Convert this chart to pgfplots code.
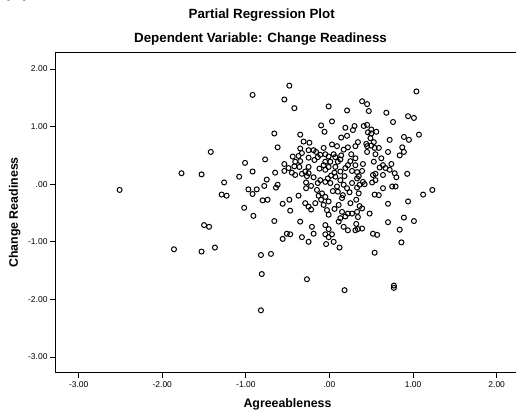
\documentclass[border=0pt]{standalone}
\usepackage{pgfplots}
\pgfplotsset{compat=1.18}
\usepackage{fontspec}
\setmainfont{Liberation Sans}

\pgfplotstableread{
x y
-0.48 1.71
-0.92 1.55
-0.54 1.47
-0.66 0.88
-0.62 0.64
-1.42 0.56
-1.01 0.37
-0.77 0.43
-1.77 0.19
-1.53 0.17
-0.92 0.22
-1.08 0.13
-0.54 0.35
-0.54 0.23
-0.65 0.20
-1.26 0.03
-0.75 0.08
-0.78 -0.03
-0.97 -0.09
-0.87 -0.09
-0.92 -0.17
-0.62 -0.01
-0.64 -0.06
-2.51 -0.10
-1.29 -0.18
-1.23 -0.20
-0.80 -0.28
-0.74 -0.27
-0.56 -0.34
-0.48 -0.27
-1.02 -0.41
-0.91 -0.55
-0.47 -0.46
-0.66 -0.64
-1.50 -0.71
-1.44 -0.74
-0.51 -0.86
-0.56 -0.95
-1.86 -1.13
-1.53 -1.17
-1.37 -1.10
-0.82 -1.23
-0.70 -1.21
-0.81 -1.56
-0.82 -2.19
-0.42 1.32
-0.01 1.35
0.21 1.28
0.39 1.44
0.45 1.39
0.47 1.27
0.03 1.09
-0.10 1.02
-0.06 0.91
0.19 0.98
0.30 1.01
0.28 0.94
0.45 1.03
0.50 0.95
0.56 0.91
-0.35 0.86
-0.31 0.74
-0.24 0.72
0.14 0.81
0.21 0.84
0.34 0.73
0.03 0.69
0.31 0.66
0.49 0.80
0.53 0.73
0.45 0.66
-0.35 0.62
-0.33 0.54
-0.19 0.59
-0.07 0.63
0.22 0.64
0.54 0.63
-0.44 0.48
-0.25 0.46
-0.16 0.56
-0.11 0.51
-0.01 0.48
0.05 0.52
0.14 0.50
0.26 0.52
0.45 0.56
0.55 0.52
-0.42 0.31
-0.25 0.30
-0.07 0.33
0.01 0.39
0.07 0.30
0.25 0.40
0.31 0.33
0.40 0.35
0.53 0.39
1.04 1.61
0.68 1.24
0.76 1.08
0.94 1.18
1.01 1.15
1.07 0.86
0.89 0.82
0.95 0.77
0.72 0.77
0.87 0.64
0.89 0.56
0.84 0.50
0.70 0.56
0.50 0.67
0.59 0.63
0.62 0.45
0.64 0.33
0.74 0.35
0.60 0.29
0.67 0.28
0.52 0.16
0.55 0.18
0.64 0.16
0.78 0.19
0.80 0.12
0.93 0.18
0.51 0.03
0.64 -0.07
0.75 -0.04
0.79 -0.04
0.54 -0.18
0.59 -0.19
1.12 -0.18
1.23 -0.10
0.94 -0.30
0.70 -0.34
0.48 -0.51
0.89 -0.58
0.70 -0.66
1.01 -0.64
0.84 -0.79
0.52 -0.86
0.57 -0.88
0.86 -1.01
0.46 0.90
0.50 0.88
0.44 0.70
0.72 0.25
0.33 0.21
0.35 0.14
0.55 0.07
0.42 0.00
0.33 -0.06
0.35 -0.16
0.32 -0.27
0.36 -0.38
0.33 -0.48
0.34 -0.57
0.32 -0.69
0.34 -0.78
0.39 -0.77
-0.47 -0.87
-0.33 -0.92
-0.25 -1.00
-0.19 -0.86
-0.05 -0.87
-0.01 -0.92
0.03 -0.87
0.05 -1.00
-0.04 -1.04
0.12 -1.10
0.22 -0.80
0.31 -0.80
0.54 -1.19
-0.27 -1.65
0.18 -1.84
0.77 -1.76
0.77 -1.80
0.41 1.01
-0.25 0.59
-0.05 0.52
-0.37 0.49
-0.35 0.40
-0.41 0.39
-0.18 0.42
-0.14 0.47
-0.05 0.39
0.07 0.47
0.10 0.39
0.13 0.43
0.31 0.45
-0.49 0.28
-0.45 0.20
-0.36 0.30
-0.29 0.22
-0.05 0.25
-0.01 0.30
0.13 0.22
0.19 0.28
0.27 0.23
0.39 0.23
-0.41 0.16
-0.33 0.18
-0.27 0.14
-0.25 0.19
-0.28 0.03
-0.28 -0.07
-0.14 0.02
-0.11 0.07
-0.05 0.04
0.01 0.02
0.07 0.13
0.13 0.07
0.17 -0.01
0.21 -0.07
0.27 0.02
0.33 0.10
0.36 -0.01
0.40 0.04
-0.15 -0.10
-0.09 -0.16
-0.13 -0.20
-0.05 -0.22
-0.01 -0.30
0.10 -0.13
0.16 -0.19
0.15 -0.24
0.39 -0.42
-0.37 -0.20
-0.29 -0.33
-0.25 -0.39
-0.22 -0.44
-0.17 -0.33
-0.07 -0.36
-0.03 -0.45
-0.01 -0.53
0.11 -0.36
0.15 -0.48
0.19 -0.56
0.22 -0.51
0.27 -0.51
-0.35 -0.65
-0.21 -0.74
-0.05 -0.71
-0.01 -0.78
0.17 -0.74
0.11 -0.65
0.13 -0.59
0.02 0.15
0.06 0.20
-0.02 0.10
0.18 0.14
0.22 0.33
0.09 -0.04
-0.19 0.12
-0.22 -0.03
0.04 -0.12
0.24 -0.14
-0.10 -0.27
0.06 -0.43
0.25 -0.33
-0.12 0.27
0.17 0.60
0.09 0.66
}\residuals

\begin{document}
\begin{tikzpicture}[x=1bp,y=1bp]
\useasboundingbox (-55,-43.3) rectangle (461,372.7);
\begin{axis}[
  at={(0,0)}, anchor=south west,
  width=461bp, height=320.7bp, scale only axis,
  xmin=-3.283, xmax=2.231, ymin=-3.273, ymax=2.295,
  axis x line*=bottom, axis y line*=left,
  axis line style={line width=0.9bp, black, -},
  xtick={-3,-2,-1,0,1,2}, xticklabels={-3.00,-2.00,-1.00,.00,1.00,2.00},
  ytick={-3,-2,-1,0,1,2}, yticklabels={-3.00,-2.00,-1.00,.00,1.00,2.00},
  tick align=outside, major tick length=5bp,
  tick style={line width=0.9bp, black},
  ticklabel style={font=\fontsize{8.5}{9}\selectfont},
  yticklabel style={xshift=1bp},
]
\addplot[only marks, mark=o, mark size=2.5bp, black,
  mark options={line width=1bp}] table {\residuals};
\draw[line width=0.9bp] (rel axis cs:0,1) -- (rel axis cs:1,1);
\end{axis}
\node[font=\bfseries\fontsize{13.4}{14}\selectfont] at (206.7,358) {Partial Regression Plot};
\node[font=\bfseries\fontsize{13.4}{14}\selectfont] at (205.5,333.7) {Dependent Variable: Change Readiness};
\node[font=\bfseries\fontsize{12.4}{13}\selectfont] at (232.5,-32) {Agreeableness};
\node[rotate=90, font=\bfseries\fontsize{12.4}{13}\selectfont] at (-40.3,160.2) {Change Readiness};
\node[anchor=base, font=\fontsize{26}{26}\selectfont] at (-38.5,377.5) {(c)};
\end{tikzpicture}
\end{document}
